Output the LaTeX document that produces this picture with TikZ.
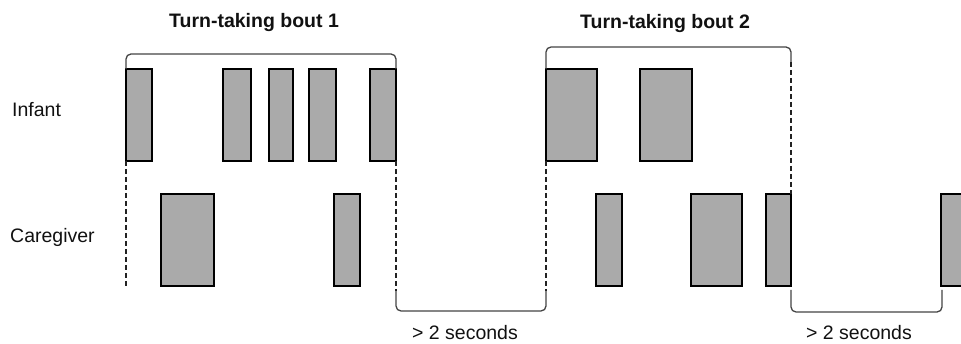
\documentclass[tikz,border=0pt]{standalone}
\usepackage{fontspec}
\setmainfont{Liberation Sans}
\definecolor{turnfill}{HTML}{AAAAAA}
\definecolor{bracketgray}{HTML}{444444}
\definecolor{guidegray}{HTML}{222222}
\definecolor{textblack}{HTML}{111111}
\begin{document}
\begin{tikzpicture}[x=1pt,y=-1pt,
  turn/.style={draw=black, line width=2pt, fill=turnfill, inner sep=0pt, outer sep=0pt,
               minimum height=92pt, anchor=north west},
  bracket/.style={draw=bracketgray, line width=1.3pt, rounded corners=5pt},
  guide/.style={draw=guidegray, line width=1.1pt, dash pattern=on 5pt off 3pt},
  lbl/.style={inner sep=0pt, text=textblack, font=\fontsize{19.5}{23}\selectfont},
  title/.style={inner sep=0pt, text=textblack, font=\bfseries\fontsize{19.5}{23}\selectfont}]
\clip (0,0) rectangle (961,344);

% infant vocal turns
\node[turn, minimum width=26pt] (i1) at (126,69) {};
\node[turn, minimum width=28pt] (i2) at (223,69) {};
\node[turn, minimum width=24pt] (i3) at (269,69) {};
\node[turn, minimum width=27pt] (i4) at (309,69) {};
\node[turn, minimum width=26pt] (i5) at (370,69) {};
\node[turn, minimum width=51pt] (j1) at (546,69) {};
\node[turn, minimum width=52pt] (j2) at (640,69) {};

% caregiver vocal turns
\node[turn, minimum width=53pt] (c1) at (161,194) {};
\node[turn, minimum width=26pt] (c2) at (334,194) {};
\node[turn, minimum width=26pt] (k1) at (596,194) {};
\node[turn, minimum width=51pt] (k2) at (691,194) {};
\node[turn, minimum width=25pt] (k3) at (766,194) {};
\node[turn, minimum width=40pt] (k4) at (941,194) {};

% bout brackets
\coordinate (b1) at (260,54);
\draw[bracket] (i1.north west) |- (b1) -| (i5.north east);
\coordinate (b2) at (660,47);
\coordinate (b2end) at (791,62);
\draw[bracket] (j1.north west) |- (b2) -| (b2end);
\draw[guide] (b2end) -- (k3.north east);

% dashed guides
\coordinate (g1) at (126,286);
\draw[guide] (i1.south west) -- (g1);
\coordinate (gap1l) at (396,291);
\coordinate (gap1r) at (546,291);
\draw[guide] (i5.south east) -- (gap1l);
\draw[guide] (j1.south west) -- (gap1r);

% pause brackets
\coordinate (gap1b) at (470,311);
\draw[bracket] (gap1l) |- (gap1b) -| (gap1r);
\coordinate (gap2l) at (791,290);
\coordinate (gap2r) at (942,290);
\coordinate (gap2b) at (866,312);
\draw[bracket] (gap2l) |- (gap2b) -| (gap2r);

% labels
\node[title, anchor=base] (t1) at (254,28) {Turn-taking bout 1};
\node[title, anchor=base] (t2) at (665,28.5) {Turn-taking bout 2};
\node[lbl, anchor=base west] (inf) at (12,117) {Infant};
\node[lbl, anchor=base west] (cg) at (10,243) {Caregiver};
\node[lbl, anchor=base] (s1) at (465,340) {> 2 seconds};
\node[lbl, anchor=base] (s2) at (859,340) {> 2 seconds};
\end{tikzpicture}
\end{document}
